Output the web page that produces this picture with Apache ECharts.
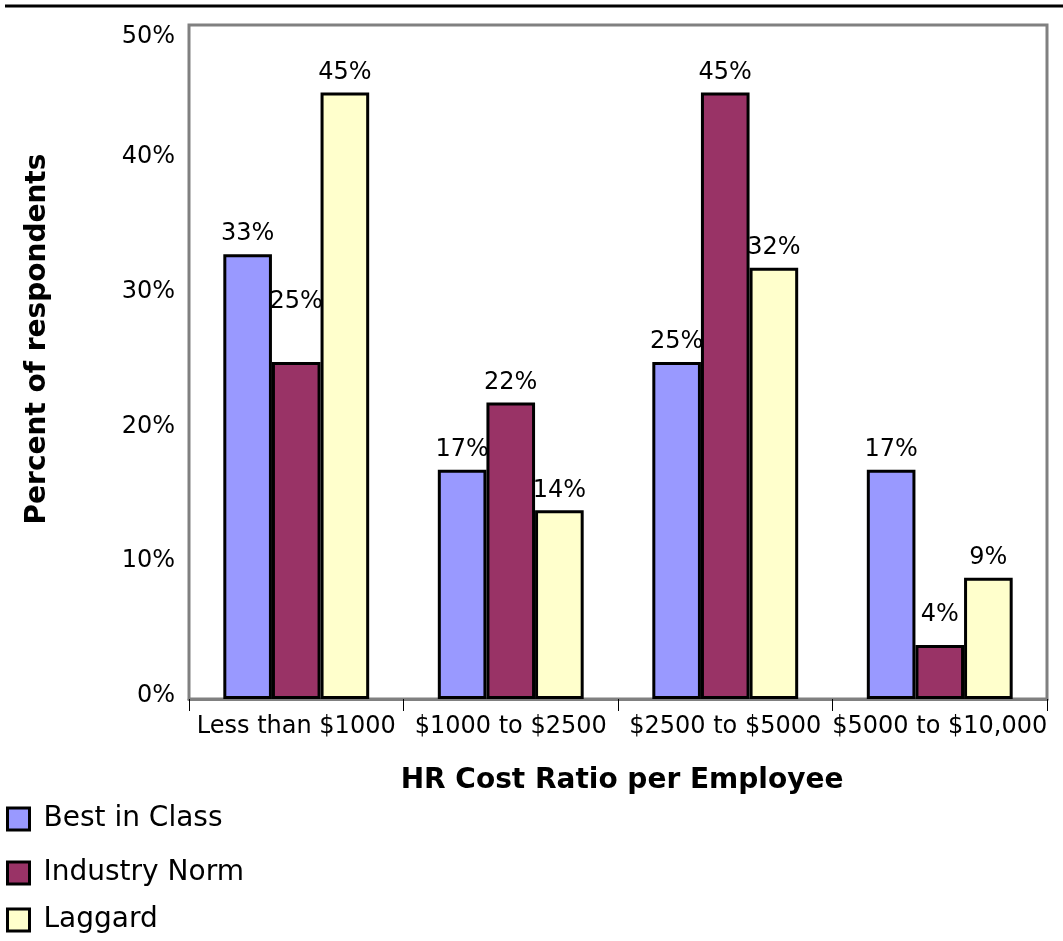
<!DOCTYPE html>
<html>
<head>
<meta charset="utf-8">
<script src="https://cdn.jsdelivr.net/npm/echarts@6/dist/echarts.min.js"></script>
<style>
  html, body { margin: 0; padding: 0; background: #fff; }
  #chart { width: 1063px; height: 941px; }
</style>
</head>
<body>
<div id="chart"></div>
<script>
// Cost bands on the x axis
const categories = ['Less than $1000', '$1000 to $2500', '$2500 to $5000', '$5000 to $10,000'];

// Share of respondents (%) in each band
const bestInClass = [33, 17, 25, 17];
const industryNorm = [25, 22, 45, 4];
const laggard = [45, 14, 32, 9];

// Y axis ticks (%)
const yTicks = [0, 10, 20, 30, 40, 50];

const FONT = 'DejaVu Sans, Verdana, sans-serif';

const chart = echarts.init(document.getElementById('chart'), null, { renderer: 'canvas' });

function barSeries(name, data, color, labelLifts) {
  return {
    name: name,
    type: 'bar',
    barGap: 0,
    barCategoryGap: '32%',
    data: data.map((v, i) => {
      const item = { value: v };
      if (labelLifts && labelLifts[i]) item.label = { offset: [0, -labelLifts[i]] };
      return item;
    }),
    itemStyle: { color: color, borderColor: '#000', borderWidth: 3 },
    label: {
      show: true,
      position: 'top',
      distance: 8,
      formatter: '{c}%',
      color: '#000',
      fontFamily: FONT,
      fontSize: 24
    }
  };
}

const legendBase = {
  orient: 'vertical',
  left: 1,
  icon: 'rect',
  itemWidth: 22,
  itemHeight: 22,
  itemGap: 10,
  itemStyle: { borderColor: '#000', borderWidth: 3 },
  textStyle: { fontFamily: FONT, fontSize: 28, color: '#000', padding: [0, 0, 0, 9] }
};

chart.setOption({
  animation: false,
  backgroundColor: '#fff',
  grid: {
    left: 189, right: 16, top: 25, bottom: 242,
    show: true, borderColor: '#808080', borderWidth: 3, backgroundColor: '#fff'
  },
  graphic: [{
    type: 'line',
    shape: { x1: 5, y1: 6, x2: 1063, y2: 6 },
    style: { stroke: '#000', lineWidth: 3 }
  }],
  legend: [
    Object.assign({}, legendBase, { top: 800, data: ['Best in Class'] }),
    Object.assign({}, legendBase, { top: 854, data: ['Industry Norm'] }),
    Object.assign({}, legendBase, { top: 901, data: ['Laggard'] })
  ],
  xAxis: {
    type: 'category',
    data: categories,
    axisLine: { show: true, lineStyle: { color: '#808080', width: 3 } },
    axisTick: { show: true, length: 12, lineStyle: { color: '#000', width: 1 } },
    axisLabel: { color: '#000', fontFamily: FONT, fontSize: 24, margin: 16, interval: 0 },
    name: 'HR Cost Ratio per Employee',
    nameLocation: 'middle',
    nameGap: 68,
    nameTextStyle: { fontFamily: FONT, fontSize: 28, fontWeight: 'bold', color: '#000', padding: [0, 0, 0, 8] }
  },
  yAxis: {
    type: 'value',
    min: yTicks[0],
    max: yTicks[yTicks.length - 1],
    interval: yTicks[1] - yTicks[0],
    splitLine: { show: false },
    axisLine: { show: false },
    axisTick: { show: false },
    axisLabel: {
      color: '#000', fontFamily: FONT, fontSize: 24, margin: 14,
      padding: [0, 0, 6, 0],
      formatter: v => v === yTicks[yTicks.length - 1] ? '{t|' + v + '%}' : v + '%',
      rich: { t: { fontFamily: FONT, fontSize: 24, color: '#000', padding: [30, 0, 0, 0] } }
    },
    name: 'Percent of respondents',
    nameLocation: 'middle',
    nameGap: 137,
    nameTextStyle: { fontFamily: FONT, fontSize: 28, fontWeight: 'bold', color: '#000', padding: [0, 0, 0, 46] }
  },
  series: [
    barSeries('Best in Class', bestInClass, '#9999FF'),
    barSeries('Industry Norm', industryNorm, '#993366', [40, 0, 0, 10]),
    barSeries('Laggard', laggard, '#FFFFCC')
  ]
});
</script>
</body>
</html>
